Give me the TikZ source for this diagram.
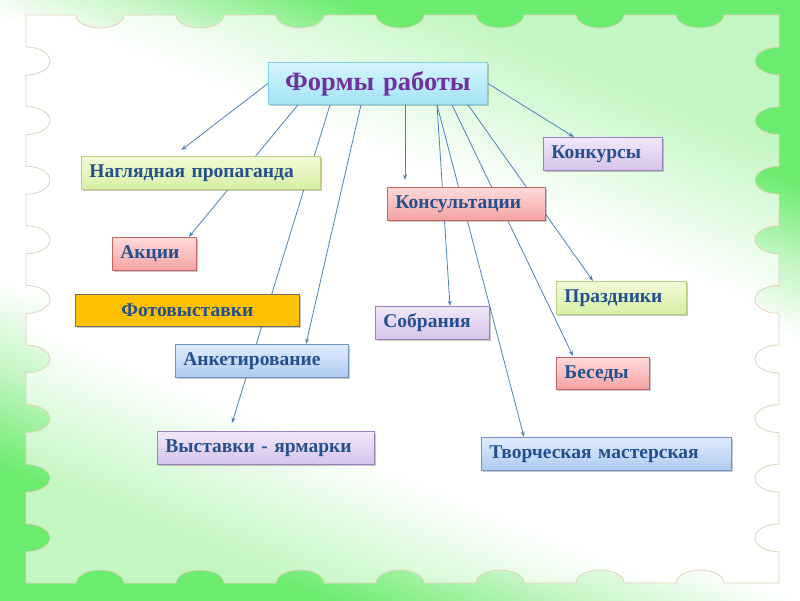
\documentclass[tikz,border=0pt]{standalone}
\usepackage{fontspec}
\setmainfont{Liberation Serif}
\usetikzlibrary{arrows.meta,shadows}
\definecolor{outg}{HTML}{6CEC6E}
\definecolor{outl}{HTML}{C8F6C8}
\definecolor{ing}{HTML}{C2F6C2}
\definecolor{frameline}{HTML}{E2D2B8}
\definecolor{arrowc}{HTML}{4F81BD}
\definecolor{txtblue}{HTML}{23518F}
\definecolor{titletxt}{HTML}{7030A0}
\definecolor{cyanT}{HTML}{D4F6FF}
\definecolor{cyanB}{HTML}{A4E2F6}
\definecolor{cyanD}{HTML}{7FCCE4}
\definecolor{grnT}{HTML}{F2FAD6}
\definecolor{grnB}{HTML}{D6EFA4}
\definecolor{grnD}{HTML}{B5CE82}
\definecolor{redT}{HTML}{FFDADA}
\definecolor{redB}{HTML}{F4A2A2}
\definecolor{redD}{HTML}{C86464}
\definecolor{bluT}{HTML}{E0ECFC}
\definecolor{bluB}{HTML}{AECBF0}
\definecolor{bluD}{HTML}{6F93C8}
\definecolor{purT}{HTML}{F2E8F8}
\definecolor{purB}{HTML}{D6C2EA}
\definecolor{purD}{HTML}{9A80BC}
\definecolor{orgF}{HTML}{FFC000}
\definecolor{orgD}{HTML}{6F6E6A}
\pgfdeclareverticalshading{outerband}{100bp}{color(0bp)=(outg); color(31bp)=(outg); color(37bp)=(outl); color(42bp)=(white); color(57bp)=(white); color(61bp)=(outl); color(66bp)=(outg); color(100bp)=(outg)}
\pgfdeclareverticalshading{innerband}{100bp}{color(0bp)=(ing); color(31bp)=(ing); color(40bp)=(white); color(58bp)=(white); color(68bp)=(ing); color(100bp)=(ing)}
\pgfdeclarelayer{bgfill}
\pgfdeclarelayer{lines}
\pgfsetlayers{bgfill,lines,main}
\newcommand\labfont{\fontsize{19.5}{22}\selectfont\bfseries}
\newcommand\ttlfont{\fontsize{26.5}{30}\selectfont\bfseries}
\newcommand\panelpath{(26,15)
    \foreach \c in {100,200,...,700} {
      -- (\c-24,15) .. controls (\c-24,22.2) and (\c-13.3,28) .. (\c,28)
      .. controls (\c+13.3,28) and (\c+24,22.2) .. (\c+24,15) }
    -- (779,15)
    \foreach \i [evaluate=\i as \yc using 61+59.6*\i] in {0,1,...,8} {
      -- (779,\yc-14) .. controls (765.7,\yc-14) and (755,\yc-7.7) .. (755,\yc)
      .. controls (755,\yc+7.7) and (765.7,\yc+14) .. (779,\yc+14) }
    -- (779,583)
    \foreach \c in {700,600,...,100} {
      -- (\c+24,583) .. controls (\c+24,575.8) and (\c+13.3,570) .. (\c,570)
      .. controls (\c-13.3,570) and (\c-24,575.8) .. (\c-24,583) }
    -- (26,583)
    \foreach \i [evaluate=\i as \yc using 61+59.6*\i] in {8,7,...,0} {
      -- (26,\yc+14) .. controls (39.3,\yc+14) and (50,\yc+7.7) .. (50,\yc)
      .. controls (50,\yc-7.7) and (39.3,\yc-14) .. (26,\yc-14) }
    -- cycle}
\tikzset{
  box/.style={rectangle, line width=0.8pt, inner xsep=8pt, inner ysep=0pt,
    minimum height=33pt, anchor=north west, font=\labfont, text=txtblue, align=left,
    drop shadow={shadow xshift=1.2pt, shadow yshift=-1.8pt, opacity=0.3, fill=black!70}},
  cyanbox/.style={box, top color=cyanT, bottom color=cyanB, draw=cyanD},
  grnbox/.style={box, top color=grnT, bottom color=grnB, draw=grnD},
  redbox/.style={box, top color=redT, bottom color=redB, draw=redD},
  blubox/.style={box, top color=bluT, bottom color=bluB, draw=bluD},
  purbox/.style={box, top color=purT, bottom color=purB, draw=purD},
  orgbox/.style={box, fill=orgF, draw=orgD, align=center},
  conn/.style={draw=arrowc, line width=0.8pt, -{Stealth[length=5.5pt,width=4pt]}}
}
\begin{document}
\begin{tikzpicture}[x=1pt,y=-1pt]
\useasboundingbox (0,0) rectangle (800,600);
\begin{pgfonlayer}{bgfill}
  \begin{scope}
    \clip (0,0) rectangle (800,600);
    \shade[shading=outerband, shading angle=-22] (0,-100) rectangle (800,700);
  \end{scope}
  \begin{scope}
    \clip \panelpath;
    \shade[shading=innerband, shading angle=-22] (0,-100) rectangle (800,700);
  \end{scope}
  \draw[frameline, line width=0.8pt] \panelpath;
\end{pgfonlayer}

\node[cyanbox, font=\ttlfont, text=titletxt, align=center, text width=203pt, minimum height=42pt] (title) at (268,62) {Формы работы};
\node[grnbox, text width=223pt] (nag) at (81,156) {Наглядная пропаганда};
\node[redbox, text width=68pt] (akc) at (112,237) {Акции};
\node[orgbox, text width=208pt, minimum height=32pt] (foto) at (75,294) {Фотовыставки};
\node[blubox, text width=157pt] (ank) at (175,344) {Анкетирование};
\node[purbox, text width=201pt] (vyst) at (157,431) {Выставки - ярмарки};
\node[purbox, text width=103pt] (konk) at (543,137) {Конкурсы};
\node[redbox, text width=142pt] (kons) at (387,187) {Консультации};
\node[grnbox, text width=114pt] (prazd) at (556,281) {Праздники};
\node[purbox, text width=98pt] (sobr) at (375,306) {Собрания};
\node[redbox, text width=77pt, minimum height=32pt] (bes) at (556,357) {Беседы};
\node[blubox, text width=234pt] (tvor) at (481,437) {Творческая мастерская};

\begin{pgfonlayer}{lines}
  \draw[conn] (title.west) -- ([xshift=-19.5pt,yshift=6pt]nag.north);
  \draw[conn] ([xshift=30pt]title.south west) -- ([xshift=-8pt]akc.north east);
  \draw[conn] ([xshift=62pt]title.south west) -- ([xshift=75pt,yshift=8pt]vyst.north west);
  \draw[conn] ([xshift=93pt]title.south west) -- ([xshift=131pt]ank.north west);
  \draw[conn] ([xshift=137pt]title.south west) -- ([xshift=18pt,yshift=7pt]kons.north west);
  \draw[conn] ([xshift=169pt]title.south west) -- ([xshift=75pt]sobr.north west);
  \draw[conn] ([xshift=169pt]title.south west) -- ([xshift=43pt]tvor.north west);
  \draw[conn] ([xshift=184pt]title.south west) -- ([xshift=17pt,yshift=1pt]bes.north west);
  \draw[conn] ([xshift=200pt]title.south west) -- ([xshift=37pt]prazd.north west);
  \draw[conn] (title.east) -- ([xshift=31pt]konk.north west);
\end{pgfonlayer}
\end{tikzpicture}
\end{document}
